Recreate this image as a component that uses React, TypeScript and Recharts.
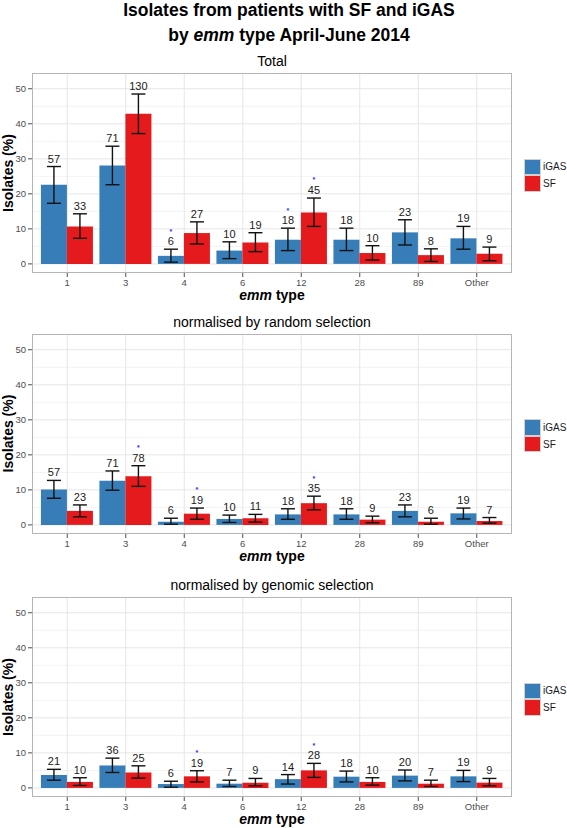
import { BarChart, Bar, XAxis, YAxis, CartesianGrid, ErrorBar, LabelList, Legend } from "recharts"

const FONT = "'Liberation Sans', Arial, Helvetica, sans-serif"

const categories = ["1", "3", "4", "6", "12", "28", "89", "Other"]
const seriesOrder = ["iGAS", "SF"]

// Total
const totalIgas = [22.6, 28.1, 2.3, 3.8, 6.9, 6.9, 9.0, 7.3]
const totalIgasLo = [17.3, 22.6, 0.5, 1.5, 3.8, 3.8, 5.4, 4.2]
const totalIgasHi = [27.8, 33.6, 4.2, 6.3, 10.2, 10.2, 12.6, 10.7]
const totalSf = [10.7, 42.9, 8.8, 6.1, 14.7, 3.1, 2.5, 2.9]
const totalSfLo = [7.3, 37.2, 5.7, 3.5, 10.7, 1.1, 0.7, 0.9]
const totalSfHi = [14.3, 48.5, 12.0, 8.9, 18.8, 5.2, 4.3, 4.8]
const totalIgasN = [57, 71, 6, 10, 18, 18, 23, 19]
const totalSfN = [33, 130, 27, 19, 45, 10, 8, 9]
const totalIgasStar = [false, false, true, false, true, false, false, false]
const totalSfStar = [false, false, false, false, true, false, false, false]

// normalised by random selection
const randIgas = [10.1, 12.6, 0.9, 1.7, 3.0, 3.0, 4.0, 3.3]
const randIgasLo = [7.6, 9.9, 0.2, 0.7, 1.6, 1.6, 2.3, 1.7]
const randIgasHi = [12.7, 15.4, 1.9, 2.8, 4.6, 4.6, 5.7, 4.8]
const randSf = [4.0, 13.9, 3.2, 1.9, 6.2, 1.5, 0.9, 1.1]
const randSfLo = [2.3, 11.0, 1.6, 0.8, 4.3, 0.6, 0.2, 0.5]
const randSfHi = [5.7, 16.9, 4.8, 3.0, 8.2, 2.5, 1.9, 2.1]
const randIgasN = [57, 71, 6, 10, 18, 18, 23, 19]
const randSfN = [23, 78, 19, 11, 35, 9, 6, 7]
const randIgasStar = [false, false, false, false, false, false, false, false]
const randSfStar = [false, true, true, false, true, false, false, false]

// normalised by genomic selection
const genIgas = [3.7, 6.4, 1.1, 1.2, 2.5, 3.2, 3.5, 3.3]
const genIgasLo = [2.2, 4.4, 0.2, 0.4, 1.1, 1.7, 2.0, 1.8]
const genIgasHi = [5.3, 8.5, 1.9, 2.2, 3.8, 4.8, 5.1, 5.0]
const genSf = [1.7, 4.4, 3.3, 1.5, 5.0, 1.7, 1.2, 1.5]
const genSfLo = [0.7, 2.8, 1.7, 0.6, 3.0, 0.8, 0.4, 0.6]
const genSfHi = [2.9, 6.3, 4.9, 2.7, 7.0, 2.9, 2.2, 2.7]
const genIgasN = [21, 36, 6, 7, 14, 18, 20, 19]
const genSfN = [10, 25, 19, 9, 28, 10, 7, 9]
const genIgasStar = [false, false, false, false, false, false, false, false]
const genSfStar = [false, false, true, false, true, false, false, false]

const majorTicks = [0, 10, 20, 30, 40, 50]
const minorTicks = [5, 15, 25, 35, 45]

type Row = {
  cat: string
  igas: number
  sf: number
  igasErr: [number, number]
  sfErr: [number, number]
  igasHi: number
  sfHi: number
  igasN: number
  sfN: number
  igasStar: boolean
  sfStar: boolean
}

function buildRows(
  igas: number[], igasLo: number[], igasHi: number[],
  sf: number[], sfLo: number[], sfHi: number[],
  igasN: number[], sfN: number[], igasStar: boolean[], sfStar: boolean[]
): Row[] {
  return categories.map((cat, i) => ({
    cat,
    igas: igas[i],
    sf: sf[i],
    igasErr: [igas[i] - igasLo[i], igasHi[i] - igas[i]],
    sfErr: [sf[i] - sfLo[i], sfHi[i] - sf[i]],
    igasHi: igasHi[i],
    sfHi: sfHi[i],
    igasN: igasN[i],
    sfN: sfN[i],
    igasStar: igasStar[i],
    sfStar: sfStar[i],
  }))
}

const panels = [
  {
    title: "Total",
    top: 73,
    rows: buildRows(totalIgas, totalIgasLo, totalIgasHi, totalSf, totalSfLo, totalSfHi, totalIgasN, totalSfN, totalIgasStar, totalSfStar),
  },
  {
    title: "normalised by random selection",
    top: 333.5,
    rows: buildRows(randIgas, randIgasLo, randIgasHi, randSf, randSfLo, randSfHi, randIgasN, randSfN, randIgasStar, randSfStar),
  },
  {
    title: "normalised by genomic selection",
    top: 597,
    rows: buildRows(genIgas, genIgasLo, genIgasHi, genSf, genSfLo, genSfHi, genIgasN, genSfN, genIgasStar, genSfStar),
  },
]

const PLOT_H = 200
const AXIS_H = 30
const LEFT = 32
const RIGHT = 55
const W = 567
const X_PAD = 6

// count above the upper CI, with a small blue asterisk above it when significant
function makeCountLabel(rows: Row[], key: "igas" | "sf") {
  return (props: any) => {
    const { x, y, width, height, index, value } = props
    const row = rows[index]
    if (!row) return null
    const v = row[key]
    const hi = key === "igas" ? row.igasHi : row.sfHi
    const star = key === "igas" ? row.igasStar : row.sfStar
    const ppu = v ? height / v : 0
    const errTop = y - (hi - v) * ppu
    const cx = x + width / 2
    const base = errTop - 4
    return (
      <g>
        <text x={cx} y={base} textAnchor="middle" fontSize={11} fill="#1a1a1a" fontFamily={FONT}>
          {value}
        </text>
        {star && (
          <text x={cx} y={base - 11.6} textAnchor="middle" fontSize={7} fontWeight="bold" fill="#2f2fe0" fontFamily={FONT}>
            *
          </text>
        )}
      </g>
    )
  }
}

// vertical grid lines sit at the centre of each category band
const bandCentres = ({ xAxis, offset }: any) => {
  const s = xAxis?.scale
  if (typeof s === "function" && typeof s.bandwidth === "function") {
    return categories.map((c) => s(c) + s.bandwidth() / 2)
  }
  const left = (offset?.left ?? LEFT) + X_PAD
  const band = ((offset?.width ?? W - LEFT - RIGHT) - 2 * X_PAD) / categories.length
  return categories.map((_, i) => left + band * (i + 0.5))
}

const legendContent = (props: any) => {
  const items = [...(props.payload || [])].sort(
    (a: any, b: any) => seriesOrder.indexOf(a.value) - seriesOrder.indexOf(b.value)
  )
  return (
    <div>
      {items.map((p: any) => (
        <div key={p.value} style={{ display: "flex", alignItems: "center", height: 16.7 }}>
          <div style={{ width: 16.5, height: 16.5, boxSizing: "border-box", background: p.color, border: "1px solid #d0d0d0" }} />
          <span style={{ marginLeft: 2.5, fontSize: 10, color: "#1a1a1a", fontFamily: FONT }}>{p.value}</span>
        </div>
      ))}
    </div>
  )
}

function Panel({ rows, top }: { rows: Row[]; top: number }) {
  return (
    <div style={{ position: "absolute", left: 0, top }}>
      <BarChart
        width={W}
        height={PLOT_H + AXIS_H}
        data={rows}
        margin={{ top: 0, right: RIGHT, bottom: 0, left: 0 }}
        barCategoryGap="5%"
        barGap={0}
      >
        <CartesianGrid horizontalValues={minorTicks} vertical={false} stroke="#f3f3f3" />
        <CartesianGrid horizontalValues={majorTicks} verticalCoordinatesGenerator={bandCentres} stroke="#e6e6e6" />
        <XAxis
          dataKey="cat"
          interval={0}
          height={AXIS_H}
          padding={{ left: X_PAD, right: X_PAD }}
          axisLine={false}
          tickSize={4}
          tickMargin={2}
          tickLine={{ stroke: "#4d4d4d" }}
          tick={{ fontSize: 9.5, fill: "#4d4d4d", fontFamily: FONT }}
        />
        <YAxis
          type="number"
          domain={[-2.6, 54.5]}
          ticks={majorTicks}
          allowDataOverflow
          width={LEFT}
          axisLine={false}
          tickSize={4}
          tickMargin={2}
          tickLine={{ stroke: "#4d4d4d" }}
          tick={{ fontSize: 9.5, fill: "#4d4d4d", fontFamily: FONT }}
        />
        <Legend
          layout="horizontal"
          align="center"
          verticalAlign="middle"
          content={legendContent}
          wrapperStyle={{ left: 524, top: 85.5, width: 43, height: 34 }}
        />
        <Bar dataKey="igas" name="iGAS" fill="#377EB8" isAnimationActive={false}>
          <ErrorBar dataKey="igasErr" width={7} strokeWidth={1.4} stroke="#111" direction="y" isAnimationActive={false} />
          <LabelList dataKey="igasN" content={makeCountLabel(rows, "igas")} />
        </Bar>
        <Bar dataKey="sf" name="SF" fill="#E41A1C" isAnimationActive={false}>
          <ErrorBar dataKey="sfErr" width={7} strokeWidth={1.4} stroke="#111" direction="y" isAnimationActive={false} />
          <LabelList dataKey="sfN" content={makeCountLabel(rows, "sf")} />
        </Bar>
      </BarChart>
      <div
        style={{
          position: "absolute",
          left: LEFT,
          top: 0,
          width: W - LEFT - RIGHT,
          height: PLOT_H,
          boxSizing: "border-box",
          border: "1px solid #b5b5b5",
          pointerEvents: "none",
        }}
      />
    </div>
  )
}

export default function App() {
  const plotCx = LEFT + (W - LEFT - RIGHT) / 2
  return (
    <div style={{ position: "absolute", left: 0, top: 0, width: W, height: 828, background: "#fff" }}>
      <svg width={W} height={828} style={{ position: "absolute", left: 0, top: 0 }} fontFamily={FONT}>
        <text x={289} y={16} textAnchor="middle" fontSize={17.5} fontWeight="bold" fill="#000">
          Isolates from patients with SF and iGAS
        </text>
        <text x={289} y={40.5} textAnchor="middle" fontSize={17.5} fontWeight="bold" fill="#000">
          by <tspan fontStyle="italic">emm</tspan> type April-June 2014
        </text>
        {panels.map((p) => (
          <g key={p.title}>
            <text x={plotCx} y={p.top - 7} textAnchor="middle" fontSize={14} fill="#000">
              {p.title}
            </text>
            <text x={plotCx} y={p.top + PLOT_H + 27} textAnchor="middle" fontSize={14} fontWeight="bold" fill="#000">
              <tspan fontStyle="italic">emm</tspan> type
            </text>
            <text
              transform={`translate(13.3, ${p.top + PLOT_H / 2}) rotate(-90)`}
              textAnchor="middle"
              fontSize={14}
              fontWeight="bold"
              fill="#000"
            >
              Isolates (%)
            </text>
          </g>
        ))}
      </svg>
      {panels.map((p) => (
        <Panel key={p.title} rows={p.rows} top={p.top} />
      ))}
    </div>
  )
}
